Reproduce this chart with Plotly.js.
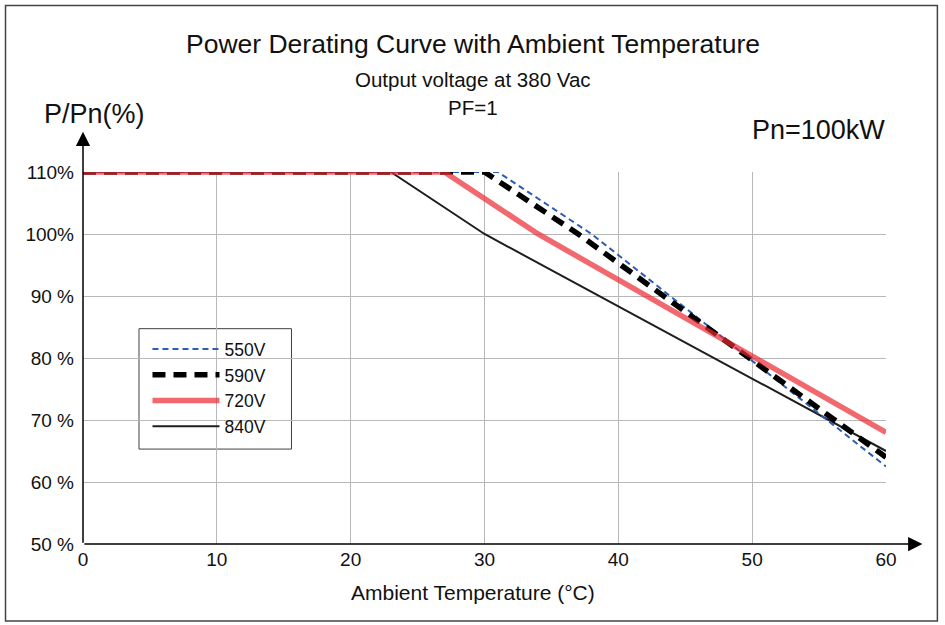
<!DOCTYPE html>
<html>
<head>
<meta charset="utf-8">
<script src="https://cdn.plot.ly/plotly-3.0.1.min.js"></script>
<style>html,body{margin:0;padding:0;background:#fff;}#chart{width:945px;height:625px;}</style>
</head>
<body>
<div id="chart"></div>
<script>
// ---- data ----
const seriesNames = ['550V', '590V', '720V', '840V'];
const temp550 = [0, 31, 38, 60];
const pow550  = [110, 110, 100, 62.5];
const temp590 = [0, 30, 37, 60];
const pow590  = [110, 110, 100, 64];
const temp720 = [0, 27, 34, 60];
const pow720  = [110, 110, 100, 68];
const temp840 = [0, 23, 30, 60];
const pow840  = [110, 110, 100, 65];
const xTickVals = [0, 10, 20, 30, 40, 50, 60];
const xTickText = ['0', '10', '20', '30', '40', '50', '60'];
const yTickVals = [50, 60, 70, 80, 90, 100, 110];
const yTickText = ['50 %', '60 %', '70 %', '80 %', '90 %', '100%', '110%'];

// ---- plot geometry (pixels) ----
const L = 82.5, R = 945 - 885.6, T = 171.7, B = 625 - 544;
const W = 945 - L - R, H = 625 - T - B;
const px = p => (p - L) / W;          // pixel x -> paper x
const py = p => (625 - B - p) / H;    // pixel y -> paper y

const FONT = 'Liberation Sans, Arial, sans-serif';

const traces = [
  {x: temp840, y: pow840, name: seriesNames[3], legendrank: 4, mode: 'lines',
   line: {color: '#1e1e1e', width: 2}},
  {x: temp550, y: pow550, name: seriesNames[0], legendrank: 1, mode: 'lines',
   line: {color: '#2a5cb8', width: 2, dash: '6px,4px'}},
  {x: temp590, y: pow590, name: seriesNames[1], legendrank: 2, mode: 'lines',
   line: {color: '#000000', width: 5.5, dash: '13px,8px'}},
  {x: temp720, y: pow720, name: seriesNames[2], legendrank: 3, mode: 'lines',
   line: {color: 'rgb(235,40,50)', width: 5.5}, opacity: 0.7}
];

const ann = (text, xp, yp, size) => ({text: text, x: px(xp), y: py(yp), xref: 'paper', yref: 'paper',
  showarrow: false, xanchor: 'center', yanchor: 'middle', font: {family: FONT, size: size, color: '#111'}});

const layout = {
  width: 945, height: 625,
  margin: {l: L, r: R, t: T, b: B, pad: 0},
  paper_bgcolor: '#fff', plot_bgcolor: '#fff',
  font: {family: FONT, color: '#111'},
  showlegend: true,
  legend: {x: px(147), y: py(331), xanchor: 'left', yanchor: 'top',
    bgcolor: 'rgba(0,0,0,0)', borderwidth: 0,
    font: {family: FONT, size: 17.5, color: '#111'}, itemwidth: 67, traceorder: 'normal'},
  xaxis: {range: [0, 60], tickvals: xTickVals, ticktext: xTickText, showgrid: true,
    gridcolor: '#b8b8b8', gridwidth: 1, zeroline: false, showline: false, ticks: '',
    ticklabelstandoff: 2,
    tickfont: {family: FONT, size: 19, color: '#111'}, fixedrange: true},
  yaxis: {range: [50, 110], tickvals: yTickVals, ticktext: yTickText, showgrid: true,
    gridcolor: '#b8b8b8', gridwidth: 1, zeroline: false, showline: false, ticks: '',
    ticklabelstandoff: 8,
    tickfont: {family: FONT, size: 19, color: '#111'}, fixedrange: true},
  annotations: [
    ann('Power Derating Curve with Ambient Temperature', 472.5, 44, 26.5),
    ann('Output voltage at 380 Vac', 473, 79, 20.5),
    ann('PF=1', 473, 107.5, 20.5),
    ann('P/Pn(%)', 94, 114, 27),
    ann('Pn=100kW', 818.5, 129.5, 27),
    ann('Ambient Temperature (°C)', 473, 593, 21),
    {text: '', x: px(922), y: 0, xref: 'paper', yref: 'paper', ax: -(922 - L), ay: 0,
     showarrow: true, arrowhead: 2, arrowsize: 1.9, arrowwidth: 1.5, arrowcolor: '#000'},
    {text: '', x: 0, y: py(131.5), xref: 'paper', yref: 'paper', ax: 0, ay: (544 - 131.5),
     showarrow: true, arrowhead: 2, arrowsize: 1.9, arrowwidth: 1.5, arrowcolor: '#000'}
  ],
  shapes: [
    {type: 'rect', xref: 'paper', yref: 'paper', x0: px(138.5), x1: px(291), y0: py(449), y1: py(328.5),
     line: {color: '#404040', width: 1}, fillcolor: '#ffffff', layer: 'below'},
    {type: 'rect', xref: 'paper', yref: 'paper', x0: px(5), x1: px(937), y0: py(621), y1: py(5),
     line: {color: '#444', width: 1.5}, fillcolor: 'rgba(0,0,0,0)', layer: 'above'}
  ]
};

Plotly.newPlot('chart', traces, layout, {displayModeBar: false, staticPlot: true});
</script>
</body>
</html>
